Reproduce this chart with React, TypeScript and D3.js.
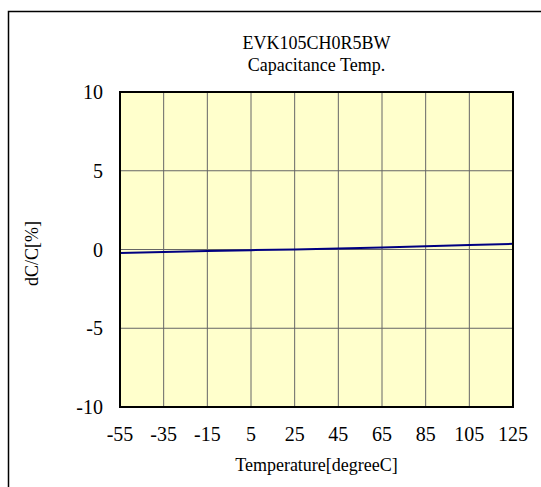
import React from "react";
import * as d3 from "d3";

const temps = [-55, -35, -15, 5, 25, 45, 65, 85, 105, 125];
const dcValues = [-0.22, -0.16, -0.1, -0.04, 0.0, 0.06, 0.13, 0.2, 0.28, 0.36];
const xTicks = [-55, -35, -15, 5, 25, 45, 65, 85, 105, 125];
const yTicks = [-10, -5, 0, 5, 10];
const titleLines = ["EVK105CH0R5BW", "Capacitance Temp."];
const xLabel = "Temperature[degreeC]";
const yLabel = "dC/C[%]";

const W = 541;
const H = 487;
const left = 120;
const right = 513;
const top = 92;
const bottom = 407;
const font = "'Liberation Serif', 'Times New Roman', serif";

export default function App() {
  const x = d3.scaleLinear().domain([-55, 125]).range([left, right]);
  const y = d3.scaleLinear().domain([-10, 10]).range([bottom, top]);
  const pts = temps.map((t, i) => [t, dcValues[i]] as [number, number]);
  const line = d3
    .line<[number, number]>()
    .x((d) => x(d[0]))
    .y((d) => y(d[1]));
  const cx = (left + right) / 2;
  return (
    <svg
      width={W}
      height={H}
      style={{ position: "absolute", left: 0, top: 0, background: "#fff" }}
    >
      <rect x={8.5} y={11.5} width={W + 10} height={H + 10} fill="#fff" stroke="#000" strokeWidth={1.5} />
      <rect x={left} y={top} width={right - left} height={bottom - top} fill="#ffffcc" />
      {xTicks.slice(1, -1).map((t) => (
        <line key={"vx" + t} x1={x(t)} x2={x(t)} y1={top} y2={bottom} stroke="#666" strokeWidth={1} />
      ))}
      {yTicks.slice(1, -1).map((t) => (
        <line key={"hy" + t} x1={left} x2={right} y1={y(t)} y2={y(t)} stroke="#666" strokeWidth={1} />
      ))}
      <path d={line(pts) || ""} fill="none" stroke="#000080" strokeWidth={2} />
      <rect x={left} y={top} width={right - left} height={bottom - top} fill="none" stroke="#000" strokeWidth={2} />
      {yTicks.map((t) => (
        <text key={"yl" + t} x={103} y={y(t)} dy="0.35em" textAnchor="end" fontFamily={font} fontSize={20}>
          {t}
        </text>
      ))}
      {xTicks.map((t) => (
        <text key={"xl" + t} x={x(t)} y={441} textAnchor="middle" fontFamily={font} fontSize={20}>
          {t}
        </text>
      ))}
      {titleLines.map((s, i) => (
        <text key={"t" + i} x={cx} y={49 + i * 22} textAnchor="middle" fontFamily={font} fontSize={18}>
          {s}
        </text>
      ))}
      <text x={cx} y={471} textAnchor="middle" fontFamily={font} fontSize={18}>
        {xLabel}
      </text>
      <text
        transform={`translate(38,${(top + bottom) / 2 + 4}) rotate(-90)`}
        textAnchor="middle"
        fontFamily={font}
        fontSize={18}
      >
        {yLabel}
      </text>
    </svg>
  );
}
